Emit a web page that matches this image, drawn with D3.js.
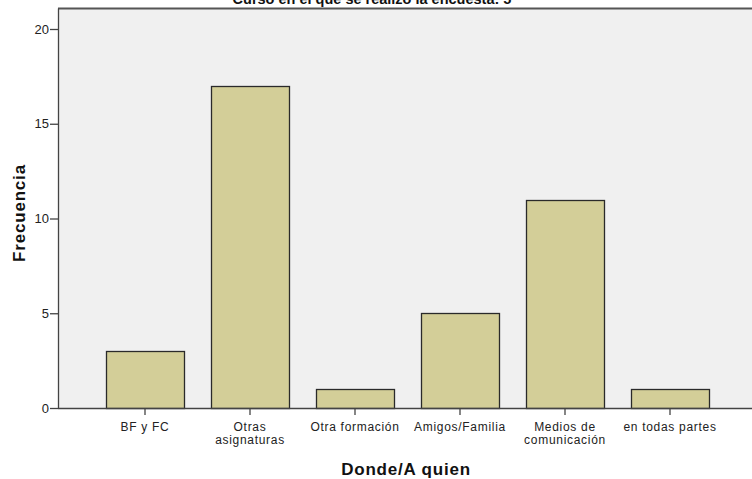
<!DOCTYPE html>
<html><head><meta charset="utf-8">
<script src="https://cdn.jsdelivr.net/npm/d3@7"></script>
<style>body{margin:0;background:#fff;} svg{display:block;}</style>
</head><body>
<svg id="c" width="752" height="479"></svg>
<script>
const categories = [["BF y FC"], ["Otras", "asignaturas"], ["Otra formación"], ["Amigos/Familia"], ["Medios de", "comunicación"], ["en todas partes"]];
const values = [3, 17, 1, 5, 11, 1];
const yTicks = [0, 5, 10, 15, 20];
const title = "Curso en el que se realizó la encuesta: 5";
const xTitle = "Donde/A quien";
const yTitle = "Frecuencia";

const svg = d3.select("#c");
const font = "Arial, 'Liberation Sans', sans-serif";
const plot = {left: 58, right: 752, top: 8.5, bottom: 408};

svg.append("rect").attr("x", plot.left).attr("y", plot.top)
  .attr("width", plot.right - plot.left).attr("height", plot.bottom - plot.top)
  .attr("fill", "#f0f0f0");

const keys = categories.map(c => c.join(" "));
const x = d3.scaleBand().domain(keys).range([92.5, 722.5]).paddingInner(0.257).paddingOuter(0.1285);
const y = d3.scaleLinear().domain([0, 20]).range([408, 29]);

svg.append("line").attr("x1", plot.left).attr("x2", plot.right)
  .attr("y1", plot.top).attr("y2", plot.top).attr("stroke", "#555").attr("stroke-width", 2);

svg.selectAll("rect.bar").data(values).enter().append("rect")
  .attr("class", "bar")
  .attr("x", (d, i) => Math.round(x(keys[i])) + 0.5)
  .attr("y", d => Math.round(y(d)) + 0.5)
  .attr("width", Math.round(x.bandwidth()))
  .attr("height", d => Math.round(y(0)) - Math.round(y(d)))
  .attr("fill", "#d3ce98").attr("stroke", "#2a2a2a").attr("stroke-width", 1.3);

// y axis
const yAxis = svg.append("g").attr("transform", `translate(${plot.left},0)`)
  .call(d3.axisLeft(y).tickValues(yTicks).tickSize(8).tickPadding(1));
yAxis.select(".domain").attr("d", `M0.5,${plot.top}V${plot.bottom}`).attr("stroke", "#444").attr("stroke-width", 1.3);
yAxis.selectAll(".tick line").attr("stroke", "#444").attr("stroke-width", 1.3);
yAxis.selectAll(".tick text").attr("font-family", font).attr("font-size", 13).attr("fill", "#222");

// x axis
const xAxis = svg.append("g").attr("transform", `translate(0,${plot.bottom})`)
  .call(d3.axisBottom(x).tickSize(7).tickFormat(""));
xAxis.select(".domain").attr("d", `M${plot.left},0.5H${plot.right}`).attr("stroke", "#444").attr("stroke-width", 1.3);
xAxis.selectAll(".tick line").attr("stroke", "#444").attr("stroke-width", 1.3);
xAxis.selectAll(".tick").each(function(d, i) {
  categories[i].forEach((line, j) => {
    d3.select(this).append("text").attr("x", 0).attr("y", 23 + j * 12.5).attr("text-anchor", "middle")
      .attr("font-family", font).attr("font-size", 12).attr("letter-spacing", 0.7).attr("fill", "#222").text(line);
  });
});

svg.append("text").attr("x", 372).attr("y", 4).attr("text-anchor", "middle")
  .attr("font-family", font).attr("font-size", 14.5).attr("font-weight", "bold").attr("fill", "#111").text(title);

svg.append("text").attr("x", 406).attr("y", 475).attr("text-anchor", "middle")
  .attr("font-family", font).attr("font-size", 17).attr("letter-spacing", 0.8).attr("font-weight", "bold").attr("fill", "#111").text(xTitle);

svg.append("text").attr("transform", "translate(25,213) rotate(-90)").attr("text-anchor", "middle")
  .attr("font-family", font).attr("font-size", 17).attr("letter-spacing", 0.8).attr("font-weight", "bold").attr("fill", "#111").text(yTitle);
</script>
</body></html>
